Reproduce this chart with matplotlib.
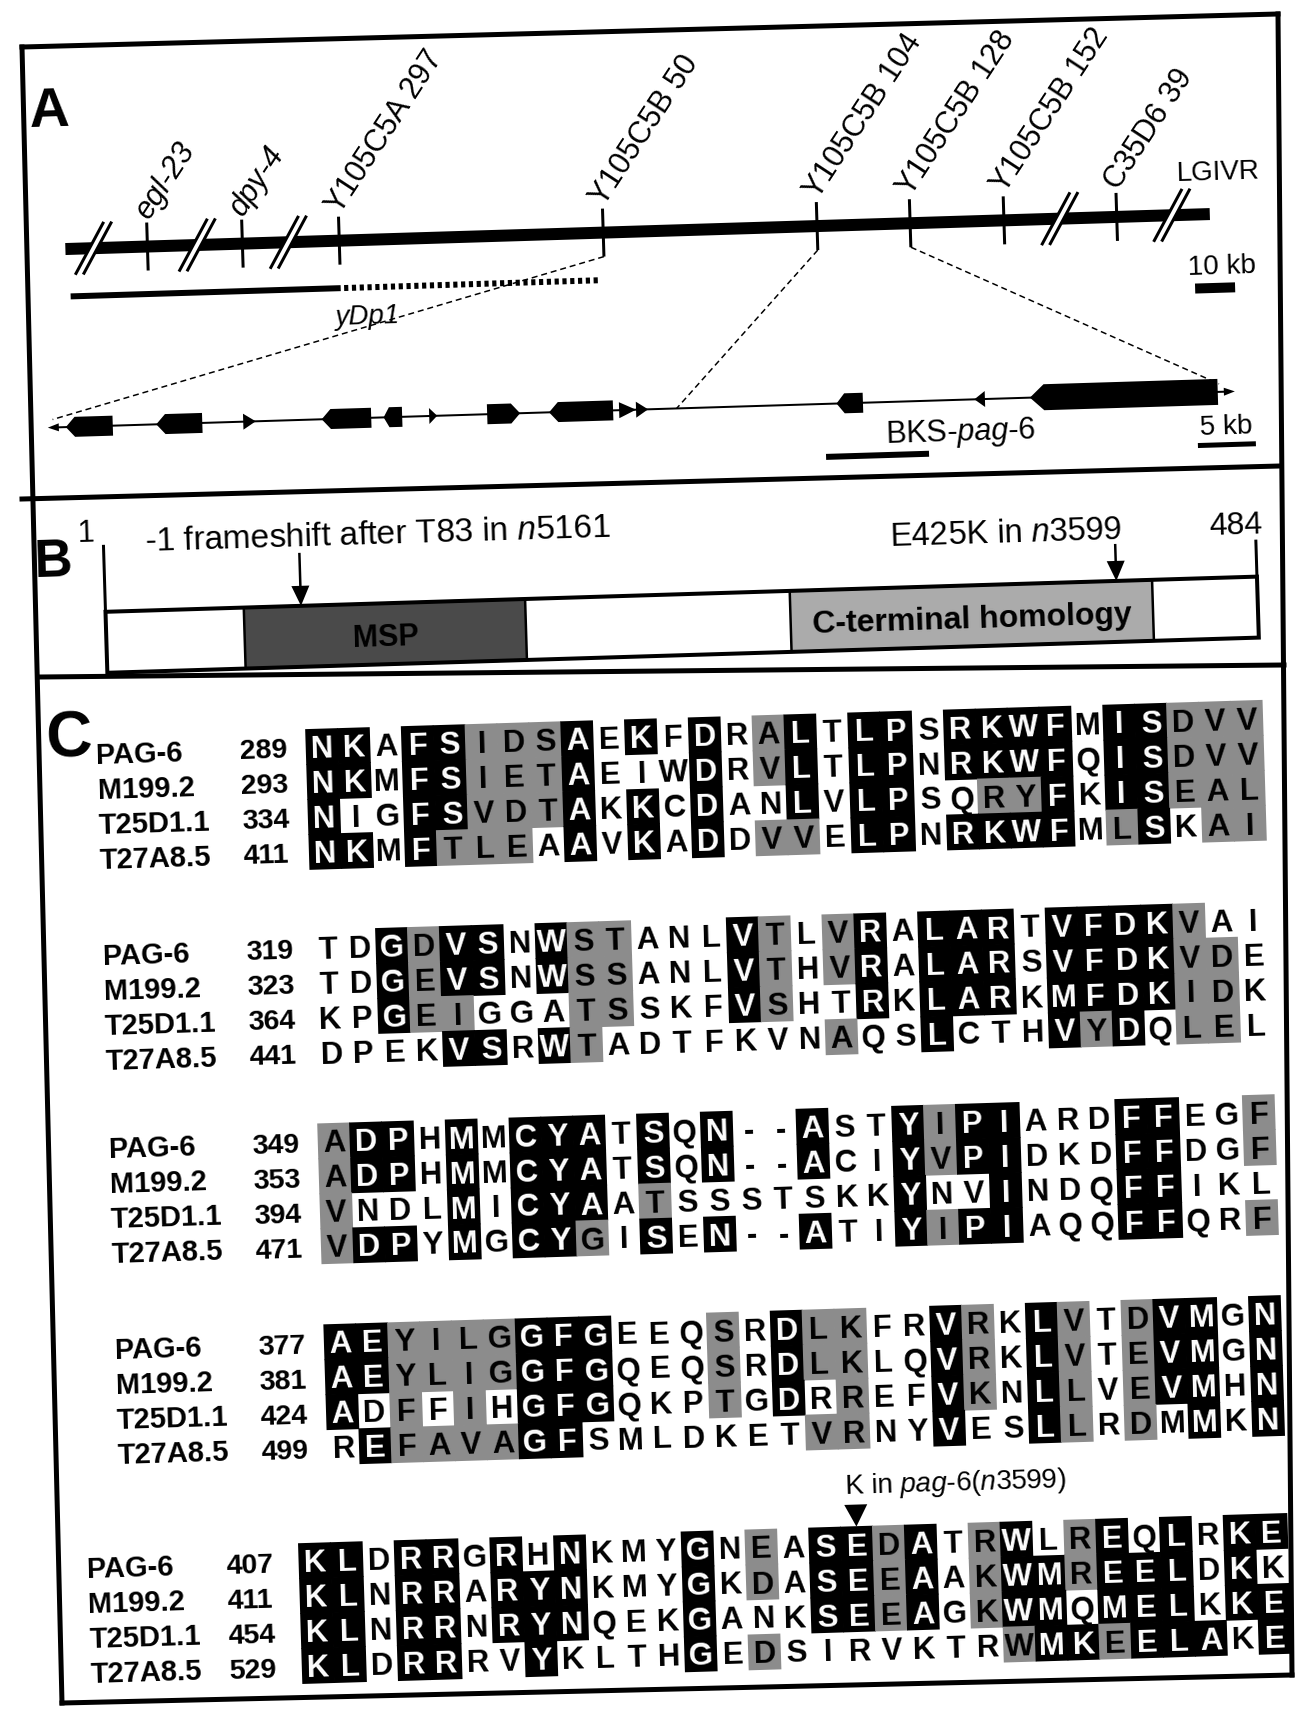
import matplotlib
matplotlib.use('Agg')
import matplotlib.pyplot as plt
from matplotlib.patches import Rectangle, Polygon
from matplotlib.lines import Line2D
from matplotlib.transforms import Affine2D

plt.rcParams['font.family'] = ['Liberation Sans', 'DejaVu Sans']
plt.rcParams['mathtext.fontset'] = 'custom'
plt.rcParams['mathtext.rm'] = 'Liberation Sans'
plt.rcParams['mathtext.it'] = 'Liberation Sans:italic'
plt.rcParams['mathtext.bf'] = 'Liberation Sans:bold'

# ------------------------------------------------------------------ data
# Panel A, upper genetic map (schematic kb positions)
markers = ['egl-23', 'dpy-4', 'Y105C5A 297', 'Y105C5B 50', 'Y105C5B 104',
           'Y105C5B 128', 'Y105C5B 152', 'C35D6 39']
marker_kb = [21.6, 46.6, 72.1, 141.6, 197.9, 222.4, 247.1, 276.8]
marker_italic = [True, True, False, False, False, False, False, False]
break_kb = [7.4, 34.7, 58.7, 261.8, 291.3]
chrom_kb = [0.0, 301.3]
ydp1_solid_kb = [1.0, 72.1]
ydp1_dashed_kb = [73.0, 140.5]

# Panel A, lower physical map (kb)
gene_start = [1.12, 8.92, 16.42, 23.19, 28.53, 32.46, 37.46, 42.80, 48.84, 50.30, 67.59, 79.48, 84.27]
gene_end = [5.17, 12.89, 17.50, 27.46, 30.13, 33.15, 40.30, 48.32, 50.30, 51.34, 69.87, 80.39, 100.47]
gene_strand = ['-', '-', '+', '-', '-', '+', '+', '-', '+', '+', '-', '-', '-']
gene_kind = ['box', 'box', 'tri', 'box', 'box', 'tri', 'box', 'box', 'tri', 'tri', 'box', 'tri', 'box']
contig_kb = [0.0, 101.6]
zoom_marker = [3, 4, 5]
zoom_target_kb = [0.0, 53.8, 100.6]
bks_kb = [66.55, 75.43]

# Panel B, protein
protein_len = 484
domain_names = ['MSP', 'C-terminal homology']
domain_start = [59, 288]
domain_end = [177, 440]
mut_pos = [83, 425]
mut_text = ['-1 frameshift after T83 in $\\mathit{n5161}$', 'E425K in $\\mathit{n3599}$']

# Panel C, alignment
seq_names = ['PAG-6', 'M199.2', 'T25D1.1', 'T27A8.5']
block_starts = [[289, 293, 334, 411], [319, 323, 364, 441], [349, 353, 394, 471],
                [377, 381, 424, 499], [407, 411, 454, 529]]
block_seqs = [
    ['NKAFSIDSAEKFDRALTLPSRKWFMISDVV', 'NKMFSIETAEIWDRVLTLPNRKWFQISDVV',
     'NIGFSVDTAKKCDANLVLPSQRYFKISEAL', 'NKMFTLEAAVKADDVVELPNRKWFMLSKAI'],
    ['TDGDVSNWSTANLVTLVRALARTVFDKVAI', 'TDGEVSNWSSANLVTHVRALARSVFDKVDE',
     'KPGEIGGATSSKFVSHTRKLARKMFDKIDK', 'DPEKVSRWTADTFKVNAQSLCTHVYDQLEL'],
    ['ADPHMMCYATSQN--ASTYIPIARDFFEGF', 'ADPHMMCYATSQN--ACIYVPIDKDFFDGF',
     'VNDLMICYAATSSSTSKKYNVINDQFFIKL', 'VDPYMGCYGISEN--ATIYIPIAQQFFQRF'],
    ['AEYILGGFGEEQSRDLKFRVRKLVTDVMGN', 'AEYLIGGFGQEQSRDLKLQVRKLVTEVMGN',
     'ADFFIHGFGQKPTGDRREFVKNLLVEVMHN', 'REFAVAGFSMLDKETVRNYVESLLRDMMKN'],
    ['KLDRRGRHNKMYGNEASEDATRWLREQLRKE', 'KLNRRARYNKMYGKDASEEAAKWMREELDKK',
     'KLNRRNRYNQEKGANKSEEAGKWMQMELKKE', 'KLDRRRVYKLTHGEDSIRVKTRWMKEELAKE'],
]
# B = identical (black), G = similar (grey), . = unshaded
block_shade = [
    ['BB.BBGGGB.B.B.GB.BB.BBBB.BBGGG', 'BB.BBGGGB...B.GB.BB.BBBB.BBGGG',
     'B..BBGGGB.B.B..B.BB..GGB.BBGGG', 'BB.BGGG.B.B.B.GG.BB.BBBB.GB.GG'],
    ['..BGBB.BGG...BG.GB.BBB.BBBBG..', '..BGBB.BGG...BG.GB.BBB.BBBBGG.',
     '..BGG...GG...BG..B.BBB.BBBBGG.', '....BB.BG.......G..B...BGB.GG.'],
    ['GBB.B.BBB.B.B..B..BGBB...BB..G', 'GBB.B.BBB.B.B..B..BGBB...BB..G',
     'G...B.BBB.G.......B..B...BB...', 'GBB.B.BBG.B.B..B..BGBB...BB..G'],
    ['BBGGGGBBB...G.BGG..BG.BG.GBB.B', 'BBGGGGBBB...G.BGG..BG.BG.GBB.B',
     'B.G.G.BBB...G.B.G..BG.BG.GBB.B', '.BGGGGBB.......GG..B..BG.G.B.B'],
    ['BB.BB.B.B...B.G.BBGB.GB.GB.B.BB', 'BB.BB.BBB...B.G.BBGB.GBBGBBB.B.',
     'BB.BB.BBB...B...BBGB.GBB.BBB.BB', 'BB.BB..B....B.G.......GBBGBBB.BB'],
]
mutant_block, mutant_col = 4, 17
mutant_text = 'K in $\\mathit{pag}$-$\\mathit{6(n3599)}$'

# ------------------------------------------------------------------ figure
W, H = 1312, 1709
fig = plt.figure(figsize=(W / 100, H / 100), dpi=100)
ax = fig.add_axes([0, 0, 1, 1])
ax.set_xlim(0, W)
ax.set_ylim(H, 0)
ax.axis('off')

PX = 0.72          # points per pixel
ANG = 1.75         # slight tilt of the scanned figure
GREY = '#8c8c8c'


def tilt(cx, cy):
    return Affine2D().rotate_deg_around(cx, cy, -ANG) + ax.transData


def line(T, xs, ys, lw, **kw):
    ax.add_line(Line2D(xs, ys, lw=lw * PX, color=kw.pop('color', 'k'), transform=T,
                       solid_capstyle='butt', dash_capstyle='butt', clip_on=False, **kw))


def rect(T, x, y, w, h, fc='k', ec='none', lw=0):
    ax.add_patch(Rectangle((x, y), w, h, fc=fc, ec=ec, lw=lw * PX, transform=T, clip_on=False))


def poly(T, pts, fc='k'):
    ax.add_patch(Polygon(pts, closed=True, fc=fc, ec='none', transform=T, clip_on=False))


def text(T, x, y, s, size, ha='center', va='center', rot=0, **kw):
    ax.text(x, y, s, transform=T, fontsize=size, ha=ha, va=va, rotation=rot + ANG,
            rotation_mode='anchor', clip_on=False, **kw)


# ------------------------------------------------------------------ frame
def frame_line(p, q, lw=5):
    ax.add_line(Line2D([p[0], q[0]], [p[1], q[1]], lw=lw * PX, color='k',
                       solid_capstyle='projecting', clip_on=False))

frame_line((22, 47), (1278, 14))
frame_line((22, 47), (62, 1703))
frame_line((1278, 14), (1292, 1675))
frame_line((62, 1703), (1292, 1675))
frame_line((22, 499), (1280, 466))
frame_line((40, 677), (1284, 665))

# ------------------------------------------------------------------ panel A
TA = tilt(656, 260)
ux = lambda kb: 66 + kb * 3.8
lx = lambda kb: 48 + kb * 11.6
CY = 231

text(TA, 54, 94, 'A', 40, weight='bold')
rect(TA, ux(chrom_kb[0]), CY - 6, ux(chrom_kb[1]) - ux(chrom_kb[0]), 12)
for kb in break_kb:
    x = ux(kb)
    poly(TA, [(x - 19, CY + 26), (x + 11, CY - 26), (x + 19, CY - 26), (x - 11, CY + 26)], fc='white')
    line(TA, [x - 19, x + 11], [CY + 26, CY - 26], 3)
    line(TA, [x - 11, x + 19], [CY + 26, CY - 26], 3)
for name, kb, it in zip(markers, marker_kb, marker_italic):
    x = ux(kb)
    line(TA, [x, x], [CY - 24, CY + 24], 3)
    text(TA, x + 2, CY - 26, name, 22, ha='left', va='baseline', rot=55,
         style='italic' if it else 'normal')
text(TA, 1262, 190, 'LGIVR', 20, ha='right')

line(TA, [ux(ydp1_solid_kb[0]), ux(ydp1_solid_kb[1])], [278.5, 278.5], 6)
line(TA, [ux(ydp1_dashed_kb[0]), ux(ydp1_dashed_kb[1])], [278.5, 278.5], 6,
     linestyle=(0, (0.7, 0.6)))
text(TA, 366, 308, 'yDp1', 20, style='italic')
text(TA, 1221, 284, '10 kb', 20)
rect(TA, 1194, 300, 40, 10)

GY = 409
line(TA, [lx(contig_kb[0]), lx(contig_kb[1])], [GY, GY], 2)
poly(TA, [(lx(contig_kb[0]) - 5, GY), (lx(contig_kb[0]) + 6, GY - 4), (lx(contig_kb[0]) + 6, GY + 4)])
poly(TA, [(lx(contig_kb[1]) + 4, GY), (lx(contig_kb[1]) - 7, GY - 4), (lx(contig_kb[1]) - 7, GY + 4)])
for s, e, st, kind in zip(gene_start, gene_end, gene_strand, gene_kind):
    a, b = lx(s), lx(e)
    if kind == 'tri':
        h = 16
        if st == '+':
            pts = [(a, GY - h / 2), (a, GY + h / 2), (b, GY)]
        else:
            pts = [(b, GY - h / 2), (b, GY + h / 2), (a, GY)]
    else:
        h = 26 if (e - s) > 10 else 20
        p = min(0.3 * (b - a), 14 if h > 20 else 9)
        if st == '+':
            pts = [(a, GY - h / 2), (b - p, GY - h / 2), (b, GY), (b - p, GY + h / 2), (a, GY + h / 2)]
        else:
            pts = [(a, GY), (a + p, GY - h / 2), (b, GY - h / 2), (b, GY + h / 2), (a + p, GY + h / 2)]
    poly(TA, pts)

for mi, kb in zip(zoom_marker, zoom_target_kb):
    x0 = ux(marker_kb[mi])
    x1 = lx(kb)
    y1 = GY if 0 < kb < contig_kb[1] - 2 else GY - 8
    line(TA, [x0, x1], [CY + 24, y1], 1.5, linestyle=(0, (4, 2.6)))

text(TA, 955, 442, 'BKS-$\\mathit{pag}$-$\\mathit{6}$', 22)
rect(TA, lx(bks_kb[0]), 459, lx(bks_kb[1]) - lx(bks_kb[0]), 6)
text(TA, 1221, 445, '5 kb', 20)
rect(TA, 1192, 459.5, 58, 5)

# ------------------------------------------------------------------ panel B
TB = tilt(656, 620)
BX0, BX1, BY0, BY1 = 106, 1258, 595, 656
bx = lambda r: BX0 + (r - 1) * (BX1 - BX0) / (protein_len - 1)

text(TB, 55, 544, 'B', 38, weight='bold')
for name, s, e, col in zip(domain_names, domain_start, domain_end, ['#4a4a4a', '#ababab']):
    rect(TB, bx(s), BY0, bx(e) - bx(s), BY1 - BY0, fc=col, ec='k', lw=2.5)
    text(TB, (bx(s) + bx(e)) / 2, (BY0 + BY1) / 2 + 4, name, 23 if len(name) > 4 else 22,
         weight='bold')
rect(TB, BX0, BY0, BX1 - BX0, BY1 - BY0, fc='none', ec='k', lw=4)
line(TB, [bx(1), bx(1)], [528, BY0], 3)
line(TB, [bx(protein_len), bx(protein_len)], [558, BY0], 3)
text(TB, 89, 516, '1', 22)
text(TB, 1238, 544, str(protein_len), 23)
arrow_top = [542, 558]
for pos, top in zip(mut_pos, arrow_top):
    x = bx(pos)
    line(TB, [x, x], [top, BY0 - 16], 2.5)
    poly(TB, [(x - 9, BY0 - 20), (x + 9, BY0 - 20), (x, BY0)])
text(TB, 380, 527, mut_text[0], 24)
text(TB, 1008, 545, mut_text[1], 23.5)

# ------------------------------------------------------------------ panel C
TC = tilt(656, 1100)
row1_y = [736.5, 937.5, 1131, 1332, 1550]
col1_x = [333, 333, 333, 333, 301]
name_x = [107, 107, 107, 107, 73]
num_x = [251, 251, 251, 251, 212]
PXC, PYC = 31.9, 35.0
LET = 22.5
base_off = 0.716 * LET * 1.389 / 2

text(TC, 80, 722, 'C', 46, weight='bold')
for b in range(len(block_seqs)):
    for r in range(4):
        y = row1_y[b] + r * PYC
        text(TC, name_x[b], y + 10.4, seq_names[r], 21, ha='left', va='baseline', weight='bold')
        text(TC, num_x[b], y + 10.4, str(block_starts[b][r]), 20.5, ha='left', va='baseline',
             weight='bold')
        seq = block_seqs[b][r]
        shade = block_shade[b][r]
        for c, (aa, sh) in enumerate(zip(seq, shade)):
            x = col1_x[b] + c * PXC
            if sh == 'B':
                rect(TC, x - PXC / 2 - 0.4, y - PYC / 2 - 0.4, PXC + 0.8, PYC + 0.8, fc='k')
            elif sh == 'G':
                rect(TC, x - PXC / 2 - 0.4, y - PYC / 2 - 0.4, PXC + 0.8, PYC + 0.8, fc=GREY)
            text(TC, x, y + base_off, aa, LET, va='baseline', weight='bold',
                 color='white' if sh == 'B' else 'black')

mx = col1_x[mutant_block] + mutant_col * PXC
top = row1_y[mutant_block] - PYC / 2
poly(TC, [(mx - 11.5, top - 22), (mx + 11.5, top - 22), (mx, top)])
text(TC, mx - 11, top - 40, mutant_text, 20, ha='left')

fig.savefig('out.png', dpi=100)
